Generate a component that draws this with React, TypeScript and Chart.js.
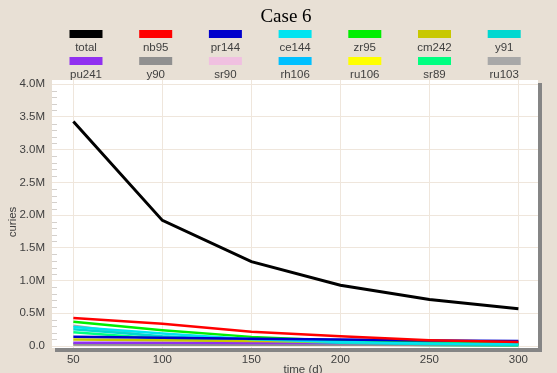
import React, { useEffect, useRef } from "react";
import { Chart, registerables } from "chart.js";

Chart.register(...registerables);

// ---- data ----
const chartTitle = "Case 6";
const xAxisTitle = "time (d)";
const yAxisTitle = "curies";
const times = [50, 100, 150, 200, 250, 300];
const xTicks = [50, 100, 150, 200, 250, 300];
const yTicks = [0, 500000, 1000000, 1500000, 2000000, 2500000, 3000000, 3500000, 4000000];

const seriesNames = ["total", "nb95", "pr144", "ce144", "zr95", "cm242", "y91", "pu241", "y90", "sr90", "rh106", "ru106", "sr89", "ru103"];

const total = [3430000, 1920000, 1290000, 930000, 710000, 570000];
const nb95 = [430000, 340000, 220000, 150000, 90000, 60000];
const pr144 = [140000, 125000, 112000, 100000, 86000, 76000];
const ce144 = [290000, 190000, 105000, 62000, 40000, 28000];
const zr95 = [370000, 240000, 140000, 82000, 50000, 30000];
const cm242 = [100000, 90000, 78000, 66000, 55000, 46000];
const y91 = [255000, 150000, 88000, 52000, 31000, 19000];
const pu241 = [50000, 49000, 48000, 47000, 46000, 45000];
const y90 = [22000, 21000, 20000, 19000, 18000, 17000];
const sr90 = [21000, 20500, 20000, 19500, 19000, 18500];
const rh106 = [32000, 30000, 28000, 26000, 24000, 22000];
const ru106 = [31000, 29000, 27000, 25000, 23000, 21000];
const sr89 = [210000, 110000, 58000, 30000, 16000, 9000];
const ru103 = [310000, 130000, 58000, 25000, 11000, 5000];

const seriesValues = [total, nb95, pr144, ce144, zr95, cm242, y91, pu241, y90, sr90, rh106, ru106, sr89, ru103];

// ---- styles ----
const seriesColors = ["#000000", "#ff0000", "#0000cc", "#00e4f0", "#00ee00", "#c8c800", "#00d8d0", "#9030f0", "#909090", "#f0c0e0", "#00c0ff", "#ffff00", "#00ff80", "#a8a8a8"];
const BG = "#e8e0d5";
const GRID = "#efe6dc";
const FONT = "Liberation Sans, Arial, sans-serif";

const decorPlugin = {
  id: "decor",
  beforeDraw(chart: any) {
    const { ctx, chartArea: a } = chart;
    ctx.save();
    ctx.fillStyle = BG;
    ctx.fillRect(0, 0, chart.width, chart.height);
    ctx.fillStyle = "#858585";
    ctx.fillRect(a.left + 3, a.top + 3, a.right - a.left + 1, a.bottom - a.top + 1);
    ctx.fillStyle = "#ffffff";
    ctx.fillRect(a.left, a.top, a.right - a.left, a.bottom - a.top);
    ctx.restore();
  },
  beforeDatasetsDraw(chart: any) {
    const { ctx, chartArea: a } = chart;
    const ys = chart.scales.y;
    ctx.save();
    ctx.strokeStyle = "#d4d0cc";
    ctx.lineWidth = 1;
    for (let i = 1; i < 40; i++) {
      if (i % 5 === 0) continue;
      const py = Math.round(ys.getPixelForValue(i * 100000)) + 0.5;
      ctx.beginPath();
      ctx.moveTo(a.left, py);
      ctx.lineTo(a.left + 5, py);
      ctx.stroke();
    }
    ctx.restore();
  },
  afterDraw(chart: any) {
    const { ctx, chartArea: a } = chart;
    ctx.save();
    // title
    ctx.fillStyle = "#000";
    ctx.font = "19px 'Liberation Serif', 'Times New Roman', serif";
    ctx.textAlign = "center";
    ctx.textBaseline = "middle";
    ctx.fillText(chartTitle, 286, 17);
    // legend
    ctx.font = `11.5px ${FONT}`;
    chart.data.datasets.forEach((ds: any, i: number) => {
      const col = i % 7;
      const row = Math.floor(i / 7);
      const cx = 86 + col * 69.7;
      const by = 30 + row * 27;
      ctx.fillStyle = ds.borderColor;
      ctx.fillRect(cx - 16.5, by, 33, 8);
      ctx.fillStyle = "#404040";
      ctx.fillText(ds.label, cx, by + 17.5);
    });
    // axis titles
    ctx.fillStyle = "#404040";
    ctx.fillText(xAxisTitle, (a.left + a.right) / 2 + 8, 370);
    ctx.translate(13, 222);
    ctx.rotate(-Math.PI / 2);
    ctx.fillText(yAxisTitle, 0, 0);
    ctx.restore();
  },
};

export default function App() {
  const ref = useRef<HTMLCanvasElement | null>(null);
  useEffect(() => {
    if (!ref.current) return;
    const chart = new Chart(ref.current, {
      type: "line",
      data: {
        datasets: seriesNames.map((name, i) => ({
          label: name,
          data: times.map((t, j) => ({ x: t, y: seriesValues[i][j] })),
          borderColor: seriesColors[i],
          backgroundColor: seriesColors[i],
          borderWidth: i === 0 ? 3 : 2.5,
          pointRadius: 0,
          tension: 0,
          fill: false,
        })),
      },
      options: {
        animation: false,
        responsive: false,
        maintainAspectRatio: false,
        layout: { padding: { top: 80, right: 19, left: 0, bottom: 0 } },
        plugins: {
          legend: { display: false },
          title: { display: false },
          tooltip: { enabled: false },
        },
        scales: {
          x: {
            type: "linear",
            min: 38,
            max: 311,
            afterFit: (s: any) => { s.height = 25; },
            afterBuildTicks: (s: any) => { s.ticks = xTicks.map((v) => ({ value: v })); },
            grid: { color: GRID, drawTicks: false },
            border: { display: false },
            ticks: {
              padding: 5,
              color: "#404040",
              font: { family: FONT, size: 11.5 },
              callback: (v: any) => String(v),
            },
          },
          y: {
            type: "linear",
            min: -30000,
            max: 4065000,
            afterFit: (s: any) => { s.width = 52; },
            afterBuildTicks: (s: any) => { s.ticks = yTicks.map((v) => ({ value: v })); },
            grid: { color: GRID, drawTicks: false },
            border: { display: false },
            ticks: {
              padding: 7,
              color: "#404040",
              font: { family: FONT, size: 11.5 },
              callback: (v: any) => (v === 0 ? "0.0" : (Number(v) / 1000000).toFixed(1) + "M"),
            },
          },
        },
      },
      plugins: [decorPlugin],
    });
    return () => chart.destroy();
  }, []);
  return (
    <div style={{ position: "absolute", left: 0, top: 0, width: 557, height: 373, background: BG }}>
      <canvas ref={ref} width={557} height={373} style={{ display: "block" }} />
    </div>
  );
}
